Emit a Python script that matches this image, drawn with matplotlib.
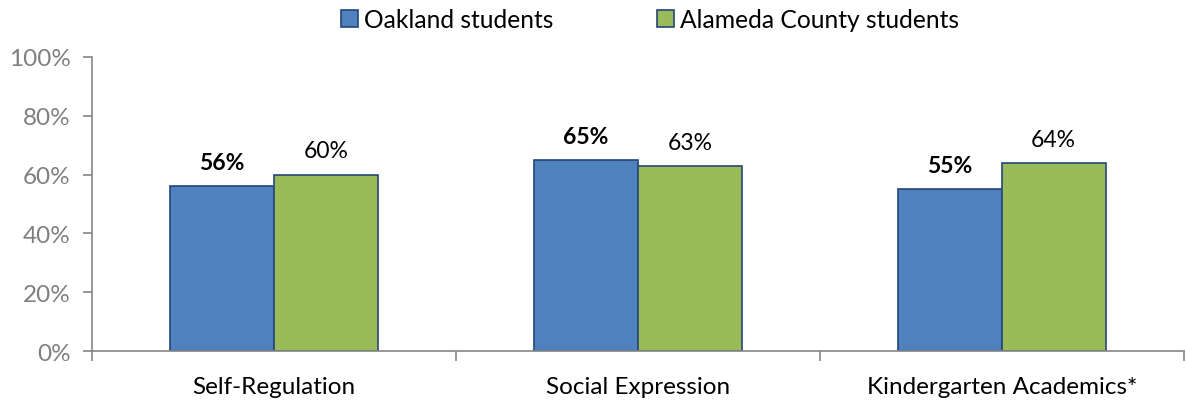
import numpy as np
import matplotlib
matplotlib.use("Agg")
import matplotlib.pyplot as plt
from matplotlib.ticker import FuncFormatter

plt.rcParams['font.family'] = ['Lato', 'DejaVu Sans']

categories = ['Self-Regulation', 'Social Expression', 'Kindergarten Academics*']
oakland = [56, 65, 55]
alameda = [60, 63, 64]
series_names = ['Oakland students', 'Alameda County students']

blue = '#4F81BD'
green = '#9BBB59'
edge = '#24467A'
axis_gray = '#868686'

fig = plt.figure(figsize=(11.86, 4.02), dpi=100)
ax = fig.add_axes([0.0776, 0.124, 0.9204, 0.732])

x = np.arange(len(categories))
w = 0.286
b1 = ax.bar(x - w / 2, oakland, w, color=blue, edgecolor=edge, linewidth=1.2, label=series_names[0])
b2 = ax.bar(x + w / 2, alameda, w, color=green, edgecolor=edge, linewidth=1.2, label=series_names[1])

for rect, v in zip(b1, oakland):
    ax.text(rect.get_x() + rect.get_width() / 2, v + 4.5, f'{v}%', ha='center', va='bottom',
            fontsize=16.5, fontweight='bold', color='black')
for rect, v in zip(b2, alameda):
    ax.text(rect.get_x() + rect.get_width() / 2, v + 4.5, f'{v}%', ha='center', va='bottom',
            fontsize=16.5, color='black')

ax.set_xlim(-0.5, len(categories) - 0.5)
ax.set_ylim(0, 100)
ax.set_yticks(range(0, 101, 20))
ax.yaxis.set_major_formatter(FuncFormatter(lambda v, p: f'{int(v)}%'))
ax.set_xticks(x)
ax.set_xticklabels(categories)
ax.tick_params(axis='x', length=0, pad=18, labelsize=17.5, labelcolor='black')
ax.tick_params(axis='y', length=6.5, width=1.2, color=axis_gray, labelsize=17.5, labelcolor='#7F7F7F', pad=9)
# category boundary ticks
ax.set_xticks(np.arange(-0.5, len(categories), 1.0), minor=True)
ax.tick_params(axis='x', which='minor', length=7, width=1.2, color=axis_gray)

for s in ['top', 'right']:
    ax.spines[s].set_visible(False)
for s in ['left', 'bottom']:
    ax.spines[s].set_color(axis_gray)
    ax.spines[s].set_linewidth(1.2)

fig.legend(loc='upper center', bbox_to_anchor=(0.548, 1.033), ncol=2, frameon=False,
           fontsize=17.7, handlelength=0.7, handleheight=0.7, handletextpad=0.25, columnspacing=4.2)

fig.savefig('out.png', dpi=100)
